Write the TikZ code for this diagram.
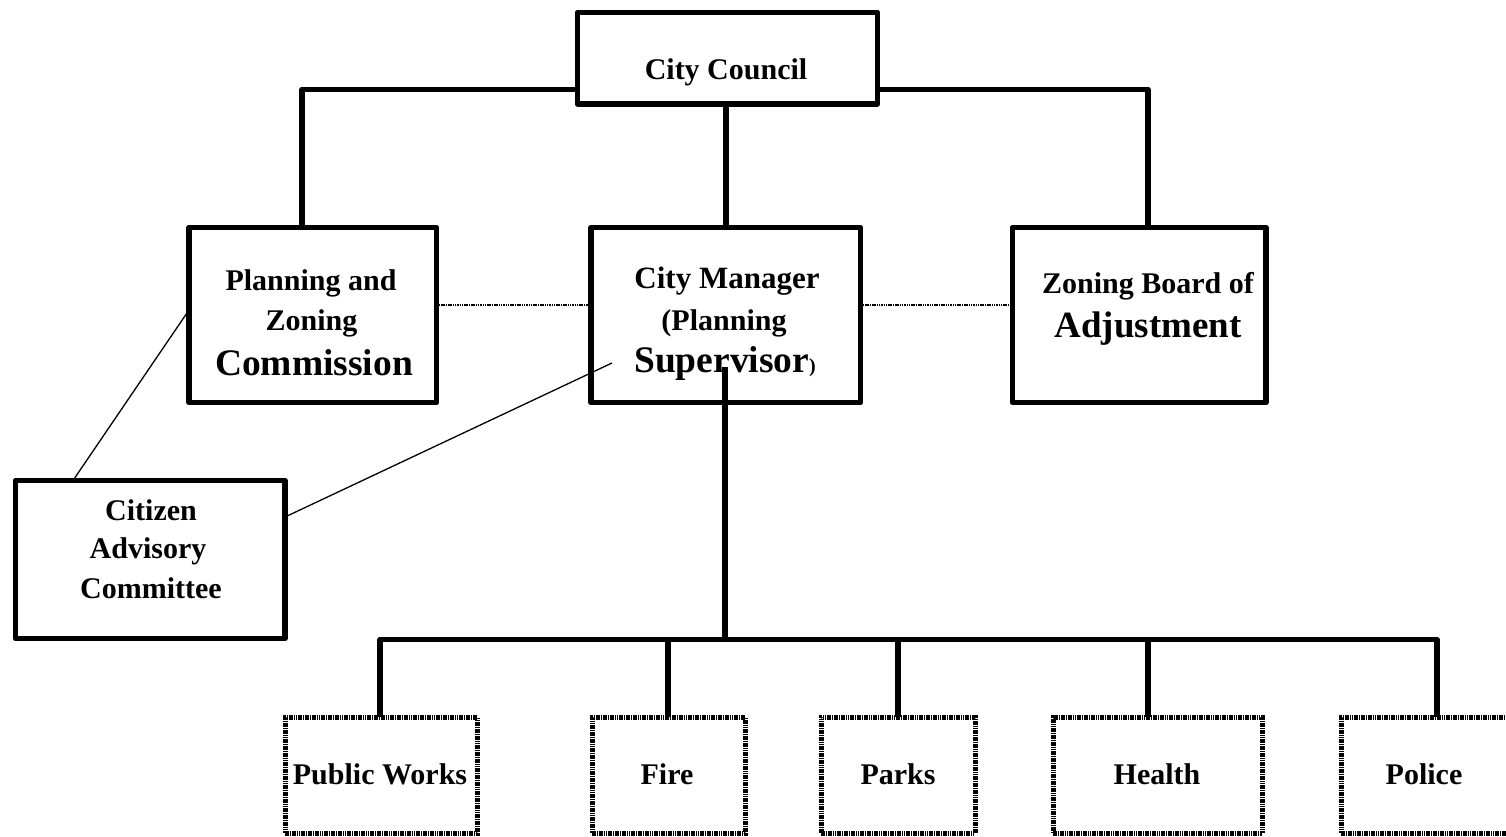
\documentclass[tikz,border=0pt]{standalone}
\usepackage{fontspec}
\setmainfont{Liberation Serif}
\tikzset{
  box/.style={draw, line width=5.5pt, line join=round, inner sep=0pt, outer sep=0pt},
  dbox/.style={draw, line width=5pt, dash pattern=on 1.6pt off 0.7pt, inner sep=0pt, outer sep=0pt},
  conn/.style={line width=5.5pt, line join=round},
  thinline/.style={line width=1.3pt},
  dotline/.style={line width=1.8pt, dash pattern=on 1.5pt off 0.8pt},
  txt/.style={anchor=base, inner sep=0pt, font=\fontsize{30}{36}\selectfont\bfseries},
  bigtxt/.style={anchor=base, inner sep=0pt, font=\fontsize{37.5}{44}\selectfont\bfseries},
}
\begin{document}
\begin{tikzpicture}[x=1pt,y=-1pt]
\useasboundingbox (0,0) rectangle (1506,837);
\clip (0,0) rectangle (1506,837);

% boxes
\node[box, minimum width=300pt, minimum height=91.5pt] (cc) at (727.5,58.25) {};
\node[box, minimum width=247.5pt, minimum height=175pt] (pz) at (312.75,315) {};
\node[box, minimum width=269.5pt, minimum height=175pt] (cm) at (725.75,315) {};
\node[box, minimum width=253.5pt, minimum height=175pt] (zba) at (1139.25,315) {};
\node[box, minimum width=269.5pt, minimum height=158pt] (ca) at (150.25,559.5) {};

\node[dbox, minimum width=192pt, minimum height=116pt] (pw) at (381,775) {};
\node[dbox, minimum width=153pt, minimum height=116pt] (fire) at (668.5,775) {};
\node[dbox, minimum width=154pt, minimum height=116pt] (parks) at (898,775) {};
\node[dbox, minimum width=209pt, minimum height=116pt] (health) at (1157.5,775) {};
\node[dbox, minimum width=169pt, minimum height=116pt] (police) at (1425.5,775) {};

% texts
\node[txt] (cct) at (726,80) {City Council};

\node[txt] (pzt1) at (311,290) {Planning and};
\node[txt] (pzt2) at (311.5,330) {Zoning};
\node[bigtxt] (pzt3) at (314,375) {Commission};

\node[txt, font=\fontsize{31}{36}\selectfont\bfseries] (cmt1) at (727,288) {City Manager};
\node[txt] (cmt2) at (724,330) {(Planning};
\node[bigtxt] (cmt3) at (725,372) {Supervisor{\fontsize{20}{24}\selectfont)}};

\node[txt] (zbat1) at (1148,293) {Zoning Board of};
\node[bigtxt, font=\fontsize{37}{44}\selectfont\bfseries] (zbat2) at (1148,337) {Adjustment};

\node[txt] (cat1) at (151,520) {Citizen};
\node[txt] (cat2) at (148,558) {Advisory};
\node[txt] (cat3) at (151,598) {Committee};

\node[txt] (pwt) at (380,784) {Public Works};
\node[txt] (firet) at (667,784) {Fire};
\node[txt] (parkst) at (898,784) {Parks};
\node[txt] (healtht) at (1157,784) {Health};
\node[txt] (policet) at (1424,784) {Police};

% connectors from City Council
\draw[conn] (cc.west |- 0,89.5) -| (pz.north -| 302,0);
\draw[conn] (cc.east |- 0,89.5) -| (zba.north -| 1148,0);
\draw[conn] (cc.south -| 726,0) -- (cm.north -| 726,0);

% dotted links
\draw[dotline] (pz.east |- 0,305) -- (cm.west |- 0,305);
\draw[dotline] (cm.east |- 0,305) -- (zba.west |- 0,305);

% thin links to citizen committee
\draw[thinline] (pz.west |- 0,310) -- (ca.north -| 73,0);
\coordinate (cmin) at (612,363);
\draw[thinline] (ca.east |- 0,517) -- (cmin);

% City manager to departments
\coordinate (cmv) at (725,367);
\coordinate (busL) at (380,639.5);
\coordinate (busR) at (1437,639.5);
\draw[conn] (cmv) -- (busL -| cmv);
\draw[conn] (pw.north -| busL) -- (busL) -- (busR) -- (police.north -| busR);
\draw[conn] (busL -| 668,0) -- (fire.north -| 668,0);
\draw[conn] (busL -| parks.north) -- (parks.north);
\draw[conn] (busL -| 1148,0) -- (health.north -| 1148,0);
\end{tikzpicture}
\end{document}
